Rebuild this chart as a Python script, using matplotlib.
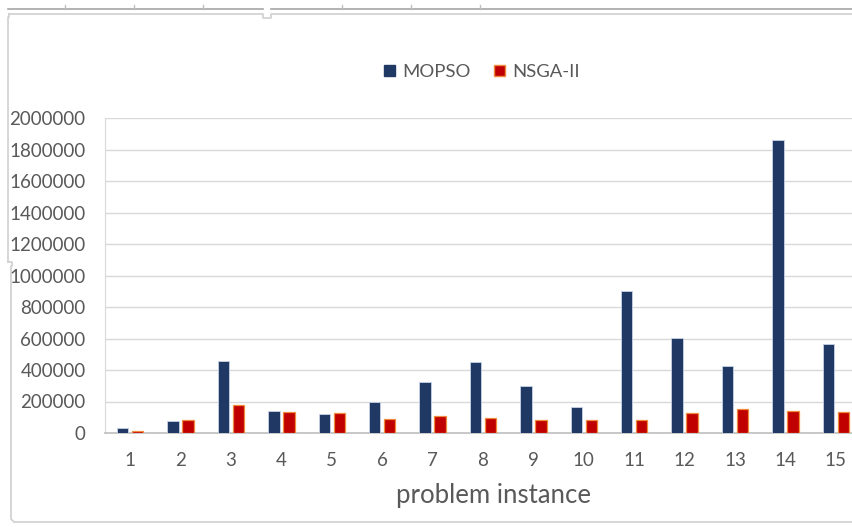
import matplotlib
matplotlib.use("Agg")
import matplotlib.pyplot as plt
from matplotlib.patches import Patch
import numpy as np

plt.rcParams["font.family"] = ["Lato", "DejaVu Sans"]

instances = list(range(1, 16))
mopso = [30000, 74000, 459000, 137000, 120000, 199000, 324000, 451000,
         300000, 164000, 899000, 604000, 423000, 1860000, 565000]
nsga2 = [10000, 82000, 180000, 133000, 127000, 91000, 110000, 98000,
         81000, 81000, 81000, 125000, 151000, 142000, 134000]
yticks = list(range(0, 2000001, 200000))

navy = "#203864"
red = "#C00000"
orange = "#F08A3C"
txt = "#595959"
grid = "#D9D9D9"

W, H = 852, 527
fig = plt.figure(figsize=(W / 100, H / 100), dpi=100)

# plot area runs past the right edge of the figure
left, right, top, bottom = 105, 861, 118, 433
ax = fig.add_axes([left / W, 1 - bottom / H, (right - left) / W, (bottom - top) / H])

x = np.array(instances)
bw = 0.228
off = 0.149
ax.bar(x - off, mopso, bw, color=navy, edgecolor="#C9D3E6", linewidth=0.6, zorder=3)
ax.bar(x + off, nsga2, bw, color=red, edgecolor=orange, linewidth=0.9, zorder=3)

ax.set_xlim(0.5, 15.5)
ax.set_ylim(0, 2000000)
ax.set_yticks(yticks)
ax.set_yticklabels([str(v) for v in yticks])
ax.set_xticks(x)
ax.set_xticklabels([str(i) for i in instances])
ax.yaxis.grid(True, color=grid, linewidth=1.0, zorder=0)
ax.set_axisbelow(True)
for s in ["top", "right"]:
    ax.spines[s].set_visible(False)
ax.spines["left"].set_color(grid)
ax.spines["bottom"].set_color("#BFBFBF")
ax.spines["bottom"].set_linewidth(1.2)
ax.tick_params(axis="both", length=0, colors=txt, labelsize=13.5)
ax.tick_params(axis="y", pad=14)
ax.tick_params(axis="x", pad=14)

fig.text(493 / W, 1 - 496 / H, "problem instance", ha="center", va="center",
         fontsize=18.5, color=txt)

handles = [Patch(facecolor=navy, edgecolor=navy, label="MOPSO"),
           Patch(facecolor=red, edgecolor=orange, label="NSGA-II")]
fig.legend(handles=handles, loc="center", bbox_to_anchor=(482 / W, 1 - 72 / H),
           ncol=2, frameon=False, fontsize=13.3, handlelength=0.55,
           handleheight=0.55, handletextpad=0.4, columnspacing=1.3,
           labelcolor=txt)

# selection frame around the chart object
ov = fig.add_axes([0, 0, 1, 1], zorder=-1)
ov.set_xlim(0, W)
ov.set_ylim(H, 0)
ov.axis("off")
ov.plot([8, 263], [9, 9], color="#A6A6A6", lw=1.2)
ov.plot([271, W], [9, 9], color="#A6A6A6", lw=1.2)
for tx in [65, 134, 203, 342, 411, 480]:
    ov.plot([tx, tx], [5, 9], color="#BFBFBF", lw=1)
ov.plot([9, 263, 263, 271, 271, W], [14, 14, 18, 18, 14, 14], color="#D0D0D0", lw=1.2)
ov.plot([9, 9, 8, 8], [14, 17, 17, 262], color="#D0D0D0", lw=1.2)
ov.plot([8, 12, 12, 11, 11, 14, W],
        [262, 262, 266, 266, 519, 522, 522], color="#D0D0D0", lw=1.2)

fig.savefig("out.png", dpi=100)
